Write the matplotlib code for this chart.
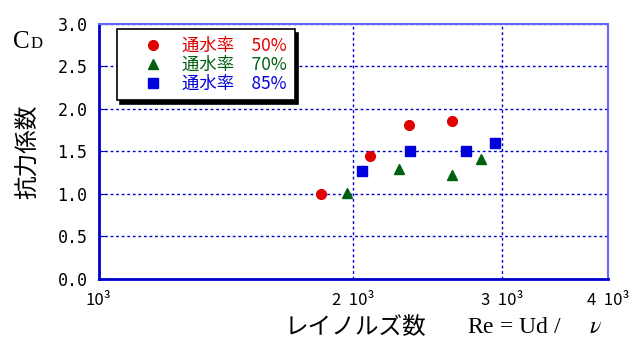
import matplotlib
matplotlib.use("Agg")
import matplotlib.pyplot as plt
from matplotlib.ticker import FixedLocator, NullLocator

plt.rcParams['font.family'] = ['Noto Sans CJK JP', 'DejaVu Sans']
plt.rcParams['mathtext.fontset'] = 'stix'

# 通水率ごとのレイノルズ数と抗力係数
re_50 = [1832, 2094, 2327, 2619]
cd_50 = [1.00, 1.45, 1.81, 1.86]
re_70 = [1966, 2265, 2617, 2835]
cd_70 = [1.01, 1.29, 1.22, 1.41]
re_85 = [2046, 2336, 2717, 2939]
cd_85 = [1.27, 1.50, 1.51, 1.60]

xticks = [1000, 2000, 3000, 4000]
xticklabels = ['10³', '2  10³', '3  10³', '4  10³']
yticks = [0.0, 0.5, 1.0, 1.5, 2.0, 2.5, 3.0]

fig = plt.figure(figsize=(6.44, 3.41), dpi=100)
ax = fig.add_axes([0.1531, 0.1818, 0.7906, 0.748])

ax.plot(re_50, cd_50, 'o', color='#e00000', ms=7, label='通水率　50%')
ax.plot(re_70, cd_70, '^', color='#006010', ms=7, label='通水率　70%')
ax.plot(re_85, cd_85, 's', color='#0000dd', ms=7.5, label='通水率　85%')

ax.set_xscale('log')
ax.set_xlim(1000, 4000)
ax.set_ylim(0, 3)
ax.xaxis.set_major_locator(FixedLocator(xticks))
ax.xaxis.set_minor_locator(NullLocator())
ax.set_xticklabels(xticklabels, fontsize=12)
ax.set_yticks(yticks)
ax.set_yticklabels(['%.1f' % v for v in yticks], fontsize=12,
                   family='DejaVu Sans Mono')
ax.tick_params(axis='y', direction='in', length=4, color='#0000cc', pad=8)
ax.tick_params(axis='x', length=0, pad=9)

ax.grid(True, color='#0000cc', linestyle=(0, (2, 2)), linewidth=1)

for side in ['left', 'bottom']:
    ax.spines[side].set_color('#0000cc')
    ax.spines[side].set_linewidth(2)
for side in ['top', 'right']:
    ax.spines[side].set_color('#6666ff')
    ax.spines[side].set_linewidth(1.5)

leg = ax.legend(loc='upper left', bbox_to_anchor=(0.036, 0.98), fontsize=12.5,
                frameon=True, fancybox=False, borderpad=0.45, labelspacing=0.05,
                handletextpad=0.12, handlelength=3.2, borderaxespad=0,
                labelcolor='markerfacecolor',
                shadow={'color': 'black', 'alpha': 1, 'ox': 2.5, 'oy': -2.5})
leg.get_frame().set_edgecolor('black')
leg.get_frame().set_linewidth(1.2)

# 縦軸ラベル
fig.text(0.044, 0.555, '抗力係数', rotation=90, fontsize=17,
         ha='center', va='center')
fig.text(0.020, 0.86, 'C', fontsize=18, family='Liberation Serif',
         ha='left', va='baseline')
fig.text(0.048, 0.86, 'D', fontsize=12, family='Liberation Serif',
         ha='left', va='baseline')

# 横軸ラベル
fig.text(0.442, 0.04, 'レイノルズ数', fontsize=17, ha='left', va='center')
fig.text(0.725, 0.04, r'Re = Ud /     $\nu$', fontsize=17,
         family='Liberation Serif', ha='left', va='center')

fig.savefig('out.png', dpi=100)
